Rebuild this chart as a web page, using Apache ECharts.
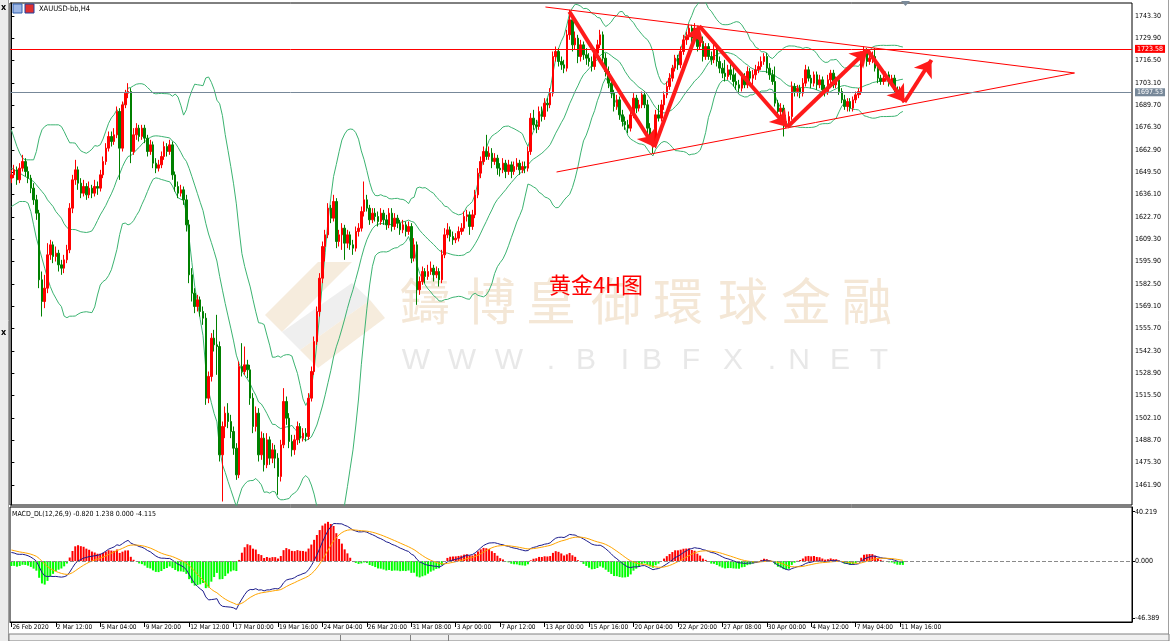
<!DOCTYPE html>
<html><head><meta charset="utf-8">
<script src="https://cdn.jsdelivr.net/npm/echarts@6/dist/echarts.min.js"></script>
<style>html,body{margin:0;padding:0;background:#fff;}#c{width:1170px;height:641px;}</style>
</head><body><div id="c"></div>
<script>
// ---------- DATA ----------
const opens=[1646,1648,1651,1645,1652,1656,1650,1646,1640,1633,1625,1585,1572,1580,1600,1606,1599,1601,1594,1592,
1597,1603,1628,1645,1651,1643,1637,1641,1636,1640,1637,1641,1640,1648,1656,1664,1671,1668,1672,1686,
1664,1690,1697,1698,1662,1672,1676,1671,1676,1670,1662,1666,1655,1652,1654,1659,1665,1662,1666,1648,
1641,1637,1639,1633,1618,1588,1577,1569,1573,1566,1562,1514,1527,1550,1546,1545,1480,1497,1505,1500,
1494,1484,1468,1533,1530,1534,1531,1514,1497,1505,1480,1490,1474,1489,1478,1483,1478,1467,1486,1512,
1502,1488,1483,1489,1497,1490,1493,1491,1514,1530,1548,1566,1586,1605,1612,1628,1622,1632,1608,1612,
1616,1607,1612,1606,1604,1614,1616,1626,1633,1628,1621,1625,1623,1620,1625,1621,1618,1625,1617,1622,
1619,1615,1618,1614,1617,1598,1606,1579,1584,1590,1587,1590,1592,1588,1590,1585,1600,1612,1615,1611,
1609,1610,1614,1616,1623,1624,1617,1624,1636,1649,1656,1662,1659,1661,1656,1658,1652,1651,1655,1650,
1654,1650,1653,1655,1651,1653,1652,1662,1682,1678,1677,1686,1683,1691,1690,1697,1719,1722,1716,1714,
1712,1732,1741,1726,1730,1719,1726,1720,1718,1716,1713,1721,1726,1732,1718,1710,1703,1697,1689,1693,
1684,1680,1678,1676,1684,1694,1688,1690,1696,1690,1676,1670,1666,1684,1682,1690,1696,1701,1706,1712,
1718,1714,1722,1729,1731,1736,1730,1736,1725,1728,1719,1725,1719,1717,1723,1716,1712,1709,1707,1711,
1708,1704,1702,1700,1707,1702,1710,1706,1708,1711,1713,1716,1719,1712,1708,1704,1691,1686,1688,1679,
1680,1683,1701,1698,1700,1697,1703,1711,1706,1703,1708,1702,1705,1699,1698,1705,1709,1702,1705,1698,
1693,1689,1692,1688,1693,1696,1698,1720,1723,1716,1718,1719,1712,1706,1704,1706,1708,1703,1706,1699,
1696,1699];
const highs=[1651,1654,1653,1655,1660,1658,1653,1648,1643,1636,1627,1590,1588,1607,1609,1608,1605,1603,1597,1600,
1606,1631,1648,1657,1653,1646,1645,1643,1644,1642,1645,1644,1651,1659,1667,1674,1674,1676,1689,1688,
1692,1699,1703,1700,1676,1679,1678,1678,1678,1672,1669,1668,1658,1657,1662,1668,1667,1669,1668,1650,
1644,1642,1641,1636,1621,1592,1580,1576,1575,1569,1565,1530,1553,1555,1564,1548,1500,1509,1511,1504,
1497,1487,1536,1547,1545,1537,1534,1517,1509,1508,1494,1493,1493,1491,1487,1486,1481,1489,1520,1515,
1505,1492,1492,1500,1499,1496,1496,1517,1533,1551,1569,1589,1608,1615,1631,1630,1636,1634,1615,1619,
1618,1615,1614,1609,1617,1619,1629,1644,1636,1630,1628,1628,1626,1628,1627,1624,1628,1628,1625,1624,
1621,1621,1620,1620,1619,1610,1608,1587,1593,1592,1594,1596,1594,1593,1592,1603,1616,1619,1617,1614,
1613,1617,1619,1626,1627,1626,1627,1639,1652,1659,1665,1672,1665,1664,1661,1660,1655,1658,1657,1657,
1656,1656,1658,1657,1656,1656,1665,1685,1687,1681,1689,1689,1694,1694,1700,1722,1725,1724,1719,1717,
1735,1747,1743,1734,1732,1729,1728,1724,1721,1719,1724,1729,1735,1734,1721,1713,1706,1699,1696,1695,
1687,1683,1681,1687,1697,1696,1693,1698,1698,1693,1679,1673,1687,1690,1693,1698,1704,1709,1714,1720,
1720,1725,1732,1734,1738,1738,1739,1737,1733,1731,1727,1727,1722,1727,1725,1719,1715,1717,1714,1715,
1713,1709,1705,1709,1709,1713,1712,1711,1714,1716,1719,1721,1721,1715,1711,1713,1693,1691,1690,1684,
1686,1704,1703,1702,1702,1706,1714,1713,1708,1710,1710,1708,1707,1702,1708,1711,1711,1707,1707,1700,
1696,1694,1694,1695,1698,1700,1722,1725,1724,1721,1722,1724,1714,1708,1709,1710,1710,1708,1708,1701,
1701,1700];
const lows=[1643,1646,1642,1643,1650,1647,1643,1637,1630,1621,1580,1563,1568,1577,1597,1595,1596,1590,1588,1589,
1595,1601,1625,1642,1639,1634,1635,1633,1634,1634,1635,1636,1638,1646,1654,1662,1665,1666,1670,1645,
1662,1688,1694,1655,1660,1669,1668,1669,1667,1659,1660,1652,1649,1650,1652,1657,1659,1660,1645,1638,
1634,1635,1630,1614,1583,1572,1565,1566,1563,1558,1510,1511,1524,1542,1528,1476,1452,1490,1496,1490,
1480,1465,1466,1527,1528,1526,1510,1493,1494,1476,1477,1470,1472,1474,1475,1472,1456,1464,1484,1498,
1484,1479,1480,1486,1487,1488,1488,1489,1512,1528,1546,1563,1583,1596,1610,1619,1620,1604,1605,1603,
1597,1604,1603,1600,1602,1611,1614,1623,1626,1618,1619,1620,1617,1618,1618,1615,1616,1614,1615,1616,
1612,1613,1611,1612,1595,1596,1570,1576,1582,1583,1585,1588,1584,1586,1581,1583,1598,1610,1608,1606,
1607,1608,1612,1614,1620,1612,1615,1622,1634,1646,1654,1657,1657,1652,1654,1648,1647,1649,1646,1648,
1646,1648,1651,1648,1649,1649,1650,1660,1675,1673,1675,1680,1681,1686,1688,1695,1716,1713,1711,1709,
1710,1729,1722,1723,1715,1716,1717,1714,1713,1710,1711,1719,1724,1715,1707,1700,1694,1686,1687,1681,
1677,1675,1673,1674,1682,1685,1686,1688,1688,1673,1667,1661,1664,1680,1680,1687,1694,1699,1704,1710,
1711,1712,1720,1726,1729,1727,1728,1722,1723,1716,1717,1717,1714,1715,1713,1709,1706,1704,1705,1705,
1701,1699,1697,1698,1700,1700,1703,1701,1705,1709,1711,1714,1709,1705,1702,1689,1683,1683,1671,1676,
1677,1681,1695,1695,1694,1695,1701,1704,1700,1701,1699,1700,1697,1695,1696,1703,1700,1700,1696,1691,
1687,1686,1686,1686,1691,1694,1696,1717,1713,1714,1715,1710,1703,1702,1702,1704,1701,1701,1697,1694,
1694,1695];
const closes=[1648,1651,1645,1652,1656,1650,1646,1640,1633,1625,1585,1572,1580,1600,1606,1599,1601,1594,1592,1597,
1603,1628,1645,1651,1643,1637,1641,1636,1640,1637,1641,1640,1648,1656,1664,1671,1668,1672,1686,1664,
1690,1697,1698,1662,1672,1676,1671,1676,1670,1662,1666,1655,1652,1654,1659,1665,1662,1666,1648,1641,
1637,1639,1633,1618,1588,1577,1569,1573,1566,1562,1514,1527,1550,1546,1545,1480,1497,1505,1500,1494,
1484,1468,1533,1530,1534,1531,1514,1497,1505,1480,1490,1474,1489,1478,1483,1478,1467,1486,1512,1502,
1488,1483,1489,1497,1490,1493,1491,1514,1530,1548,1566,1586,1605,1612,1628,1622,1632,1608,1612,1616,
1607,1612,1606,1604,1614,1616,1626,1633,1628,1621,1625,1623,1620,1625,1621,1618,1625,1617,1622,1619,
1615,1618,1614,1617,1598,1606,1579,1584,1590,1587,1590,1592,1588,1590,1585,1600,1612,1615,1611,1609,
1610,1614,1616,1623,1624,1617,1624,1636,1649,1656,1662,1659,1661,1656,1658,1652,1651,1655,1650,1654,
1650,1653,1655,1651,1653,1652,1662,1682,1678,1677,1686,1683,1691,1690,1697,1719,1722,1716,1714,1712,
1732,1741,1726,1730,1719,1726,1720,1718,1716,1713,1721,1726,1732,1718,1710,1703,1697,1689,1693,1684,
1680,1678,1676,1684,1694,1688,1690,1696,1690,1676,1670,1666,1684,1682,1690,1696,1701,1706,1712,1718,
1714,1722,1729,1731,1736,1730,1736,1725,1728,1719,1725,1719,1717,1723,1716,1712,1709,1707,1711,1708,
1704,1702,1700,1707,1702,1710,1706,1708,1711,1713,1716,1719,1712,1708,1704,1691,1686,1688,1679,1680,
1683,1701,1698,1700,1697,1703,1711,1706,1703,1708,1702,1705,1699,1698,1705,1709,1702,1705,1698,1693,
1689,1692,1688,1693,1696,1698,1720,1723,1716,1718,1719,1712,1706,1704,1706,1708,1703,1706,1699,1696,
1699,1697.5];
const timeLabels=['26 Feb 2020','2 Mar 12:00','5 Mar 04:00','9 Mar 20:00','12 Mar 12:00','17 Mar 00:00','19 Mar 16:00',
'24 Mar 04:00','26 Mar 20:00','31 Mar 08:00','3 Apr 00:00','7 Apr 12:00','13 Apr 00:00','15 Apr 16:00',
'20 Apr 04:00','22 Apr 20:00','27 Apr 08:00','30 Apr 00:00','4 May 12:00','7 May 04:00','11 May 16:00'];
const priceTicks=[1461.9,1475.3,1488.7,1502.1,1515.5,1528.9,1542.3,1555.7,1569.1,1582.5,1595.9,1609.3,1622.7,1636.1,1649.5,1662.9,1676.3,1689.7,1703.1,1716.5,1729.9,1743.3];
const macdTicks=[-46.389,0,40.219];
// Bollinger(20,2) values for the first 19 bars (earlier history is off-screen)
const bbHeadUpper=[1675,1670,1665,1661,1658,1657,1657,1657,1657,1662,1670,1675,1677,1678,1678,1678,1678,1678,1677];
const bbHeadMid=[1652,1651,1650,1649,1648,1647,1646,1645,1644,1642,1640,1638,1636,1633,1631,1629,1626,1624,1622];
const bbHeadLower=[1629,1630,1631,1632,1632,1632,1631,1626,1618,1610,1604,1598,1592,1586,1581,1577,1574,1571,1569];
// MACD state at the first bar
const macdSeedEma12=1650, macdSeedEma26=1643, macdSeedDea=9;
const redLevel=1723.58, bidLevel=1697.53;
const triUpper=[[192.3,1748.7],[382.8,1709.1]];
const triLower=[[196.3,1649.7],[382.8,1709.1]];
const arrowPath=[[200.9,1745.9],[231.5,1664.7],[247.7,1737.3],[279.4,1676.7],[308.2,1722.9],[321.6,1691.7],[331.3,1716.9]];
const macdTitle='MACD_DL(12,26,9) -0.820 1.238 0.000 -4.115';
const symbolTitle='XAUUSD-bb,H4';
const noteText='黄金4H图';
const wmChars=['鑄','博','皇','御','環','球','金','融'];
const wmCharX=[425,491,551,616,678,743,806,867];
const wmUrl=['W','W','W','.','B','I','B','F','X','.','N','E','T'];
const wmUrlX=[416,462,509,551,586,625,652,691,733,772,799,840,879];
const SLOTS=404;

// ---------- derived ----------
const n=closes.length;
const cats=[];for(let i=0;i<SLOTS;i++)cats.push(i%16===0&&timeLabels[i/16]?timeLabels[i/16]:'');
const showTick=(idx)=>idx%16===0&&idx/16<timeLabels.length;
const candle=[];for(let i=0;i<n;i++)candle.push([opens[i],closes[i],lows[i],highs[i]]);
const bbU=[],bbM=[],bbL=[];
for(let i=0;i<n;i++){
  if(i<bbHeadMid.length){bbU.push(bbHeadUpper[i]);bbM.push(bbHeadMid[i]);bbL.push(bbHeadLower[i]);continue;}
  const w=closes.slice(i-19,i+1);const m=w.reduce((a,b)=>a+b,0)/20;
  const sd=Math.sqrt(w.reduce((a,b)=>a+(b-m)*(b-m),0)/20);
  bbM.push(m);bbU.push(m+2*sd);bbL.push(m-2*sd);
}
const dif=[],dea=[],hist=[];
let e12=macdSeedEma12,e26=macdSeedEma26,d=macdSeedDea;
for(let i=0;i<n;i++){
  if(i>0){e12+= (closes[i]-e12)*2/13;e26+=(closes[i]-e26)*2/27;}
  const df=e12-e26; if(i>0) d+=(df-d)*0.2;
  dif.push(df);dea.push(d);const h=2*(df-d);
  hist.push({value:h,itemStyle:{color:h>=0?'#ff0000':'#00ff00'}});
}
const arrows=[];for(let i=0;i<arrowPath.length-1;i++)arrows.push({coords:[arrowPath[i],arrowPath[i+1]]});

const FONT='"Liberation Sans Narrow","DejaVu Sans Condensed","Liberation Sans",sans-serif';
const gfx=[];
gfx.push({type:'rect',shape:{x:0,y:0,width:8,height:641},style:{fill:'#ececec'},z:-5});
gfx.push({type:'line',shape:{x1:8.5,y1:0,x2:8.5,y2:641},style:{stroke:'#a0a0a0',lineWidth:1}});
gfx.push({type:'text',x:1,y:4,style:{text:'x',fontSize:8,fontWeight:'bold',fill:'#000',fontFamily:'DejaVu Sans'}});
gfx.push({type:'text',x:1,y:329,style:{text:'x',fontSize:8,fontWeight:'bold',fill:'#000',fontFamily:'DejaVu Sans'}});
gfx.push({type:'line',shape:{x1:1168.5,y1:0,x2:1168.5,y2:641},style:{stroke:'#a0a0a0',lineWidth:1}});
gfx.push({type:'rect',shape:{x:9,y:634,width:1160,height:7},style:{fill:'#f0f0f0',stroke:'#808080',lineWidth:1}});
[340,410,448].forEach(x=>gfx.push({type:'line',shape:{x1:x+0.5,y1:635,x2:x+0.5,y2:641},style:{stroke:'#808080'}}));
gfx.push({type:'rect',shape:{x:13,y:4,width:9,height:9},style:{fill:'#9db7e6',stroke:'#3060b0',lineWidth:1},z:10});
gfx.push({type:'rect',shape:{x:25,y:4,width:9,height:9},style:{fill:'#e03030',stroke:'#2040a0',lineWidth:1},z:10});
gfx.push({type:'text',x:39,y:9,style:{text:symbolTitle,fontSize:7.5,fill:'#000',fontFamily:FONT,textVerticalAlign:'middle'},z:10});
gfx.push({type:'polygon',shape:{points:[[901,1],[910,1],[905.5,6]]},style:{fill:'#7a8a99'},z:10});
gfx.push({type:'text',x:12,y:514,style:{text:macdTitle,fontSize:7,fill:'#000',fontFamily:FONT,textVerticalAlign:'middle'},z:10});
gfx.push({type:'polygon',shape:{points:[[318,262],[352,262],[282,332],[265,315]]},style:{fill:'#f6ecdd'},z:-2});
gfx.push({type:'polygon',shape:{points:[[282,332],[300,350],[370,300],[352,283]]},style:{fill:'#efefef'},z:-2});
gfx.push({type:'polygon',shape:{points:[[300,350],[370,300],[385,318],[318,368]]},style:{fill:'#f6ecdd'},z:-2});
wmChars.forEach((c,i)=>gfx.push({type:'text',x:wmCharX[i],y:301,style:{text:c,fontSize:50,fill:'#f4e7d6',fontFamily:'"Noto Sans CJK TC","Noto Sans CJK SC",sans-serif',textAlign:'center',textVerticalAlign:'middle'},z:-2}));
wmUrl.forEach((c,i)=>gfx.push({type:'text',x:wmUrlX[i],y:361,style:{text:c,fontSize:30,fill:'#e8e8e8',fontFamily:'"Liberation Sans",sans-serif',textAlign:'center',textVerticalAlign:'middle'},z:-2}));
gfx.push({type:'text',x:596,y:285,style:{text:noteText,fontSize:22,fill:'#ff0000',fontFamily:'"Noto Sans CJK SC",sans-serif',textAlign:'center',textVerticalAlign:'middle'},z:50});

const chart=echarts.init(document.getElementById('c'),null,{renderer:'canvas'});
chart.setOption({
  animation:false,
  backgroundColor:'#ffffff',
  graphic:gfx,
  grid:[
    {left:10,right:38,top:3,height:502,show:true,borderColor:'#000',borderWidth:1,backgroundColor:'transparent'},
    {left:10,right:38,top:507,height:115,show:true,borderColor:'#000',borderWidth:1,backgroundColor:'transparent'}
  ],
  xAxis:[
    {type:'category',gridIndex:0,data:cats,boundaryGap:true,axisLine:{show:false},axisTick:{show:false},axisLabel:{show:false},splitLine:{show:false}},
    {type:'category',gridIndex:1,data:cats,boundaryGap:true,
      axisLine:{show:true,onZero:false,lineStyle:{color:'#000'}},
      axisTick:{show:true,interval:showTick,alignWithLabel:true,length:5,lineStyle:{color:'#000'}},
      axisLabel:{show:true,interval:showTick,align:'left',margin:2,fontSize:6.5,color:'#000',fontFamily:FONT,padding:[0,0,0,1]},splitLine:{show:false}},
    {type:'value',gridIndex:0,min:-0.5,max:SLOTS-0.5,show:false}
  ],
  yAxis:[
    {type:'value',gridIndex:0,position:'right',min:1449.9,max:1751.1,
      axisLine:{show:true,lineStyle:{color:'#000'}},
      axisTick:{show:true,length:3,customValues:priceTicks,lineStyle:{color:'#000'}},
      axisLabel:{show:true,customValues:priceTicks,margin:3,fontSize:7,color:'#000',fontFamily:FONT,formatter:v=>v.toFixed(2)},
      splitLine:{show:false}},
    {type:'value',gridIndex:1,position:'right',min:-49.65,max:44.05,
      axisLine:{show:true,lineStyle:{color:'#000'}},
      axisTick:{show:true,length:3,customValues:macdTicks,lineStyle:{color:'#000'}},
      axisLabel:{show:true,customValues:macdTicks,margin:3,fontSize:7,color:'#000',fontFamily:FONT,formatter:v=>v.toFixed(3)},
      splitLine:{show:false}}
  ],
  series:[
    {type:'line',xAxisIndex:0,yAxisIndex:0,data:bbU,showSymbol:false,lineStyle:{color:'#3cb371',width:1},silent:true,z:2},
    {type:'line',xAxisIndex:0,yAxisIndex:0,data:bbM,showSymbol:false,lineStyle:{color:'#3cb371',width:1},silent:true,z:2},
    {type:'line',xAxisIndex:0,yAxisIndex:0,data:bbL,showSymbol:false,lineStyle:{color:'#3cb371',width:1},silent:true,z:2},
    {type:'candlestick',xAxisIndex:0,yAxisIndex:0,data:candle,barWidth:2,
      itemStyle:{color:'#ff0000',color0:'#008000',borderColor:'#ff0000',borderColor0:'#008000',borderWidth:1},z:3,
      markLine:{silent:true,symbol:['none','none'],animation:false,
        data:[
          {yAxis:redLevel,lineStyle:{color:'#ff0000',width:1,type:'solid'},
            label:{show:true,position:'end',distance:3,formatter:()=>redLevel.toFixed(2),color:'#fff',backgroundColor:'#ff0000',padding:[1,2,0,2],fontSize:7,fontFamily:FONT}},
          {yAxis:bidLevel,lineStyle:{color:'#778899',width:1,type:'solid'},
            label:{show:true,position:'end',distance:3,formatter:()=>bidLevel.toFixed(2),color:'#fff',backgroundColor:'#778899',padding:[1,2,0,2],fontSize:7,fontFamily:FONT}}
        ]}},
    {type:'line',xAxisIndex:2,yAxisIndex:0,data:triUpper,showSymbol:false,lineStyle:{color:'#ff0000',width:1},silent:true,z:4},
    {type:'line',xAxisIndex:2,yAxisIndex:0,data:triLower,showSymbol:false,lineStyle:{color:'#ff0000',width:1},silent:true,z:4},
    {type:'lines',coordinateSystem:'cartesian2d',xAxisIndex:2,yAxisIndex:0,data:arrows,
      symbol:['none','arrow'],symbolSize:[13,16],lineStyle:{color:'#ff1a1a',width:4,opacity:1,curveness:0},silent:true,z:5},
    {type:'bar',xAxisIndex:1,yAxisIndex:1,data:hist,barWidth:2,silent:true,z:2,
      markLine:{silent:true,symbol:['none','none'],label:{show:false},lineStyle:{color:'#8a8a8a',type:'dashed',width:1},data:[{yAxis:0}]}},
    {type:'line',xAxisIndex:1,yAxisIndex:1,data:dif,showSymbol:false,lineStyle:{color:'#1c1c8c',width:1},silent:true,z:3},
    {type:'line',xAxisIndex:1,yAxisIndex:1,data:dea,showSymbol:false,lineStyle:{color:'#ffa500',width:1},silent:true,z:3}
  ]
});
</script></body></html>
